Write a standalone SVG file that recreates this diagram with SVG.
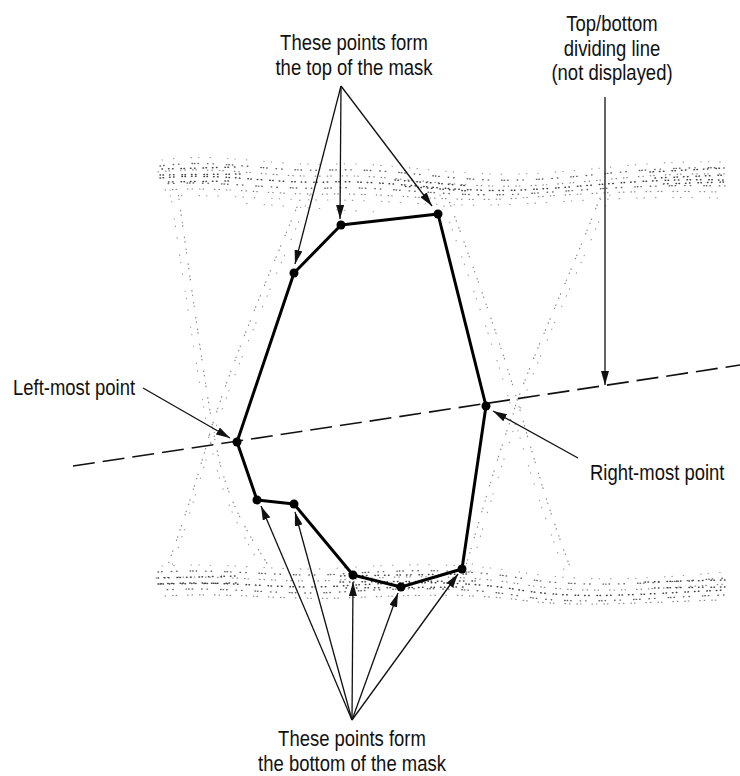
<svg xmlns="http://www.w3.org/2000/svg" width="740" height="776" viewBox="0 0 740 776">
<defs>
<marker id="ah" viewBox="0 0 14 8" refX="14" refY="4" markerWidth="14" markerHeight="8" markerUnits="userSpaceOnUse" orient="auto"><path d="M0,0 L14,4 L0,8 z" fill="#111"/></marker>
</defs>
<style>
.t{font-family:"Liberation Sans",Arial,sans-serif;font-size:22px;fill:#111}
.ar{stroke:#111;stroke-width:1.3;fill:none;marker-end:url(#ah)}
.mask{stroke:#000;stroke-width:3;fill:none;stroke-linejoin:round}
.pt{fill:#000}
.dash{stroke:#111;stroke-width:1.6;stroke-dasharray:22 8;fill:none}
.n{fill:none;stroke-linecap:round}
.a{stroke:#666;stroke-width:1.4;stroke-dasharray:0.5 3 0.5 9 0.5 5 0.5 13 0.5 2}
.b{stroke:#888;stroke-width:1.2;stroke-dasharray:0.5 7 0.5 3 0.5 11 0.5 4}
.c{stroke:#444;stroke-width:1.5;stroke-dasharray:0.5 2.5 0.5 6 0.5 3.5 0.5 8}
.d{stroke:#999;stroke-width:1.1;stroke-dasharray:0.5 11 0.5 17 0.5 7}
</style>
<rect width="740" height="776" fill="#fff"/>
<g id="noise">
<path class="n d" d="M162,160 C220,152 270,166 330,164 S450,176 520,174 S640,160 725,162"/>
<path class="n a" d="M160,166 C220,158 260,172 330,170 S450,182 520,180 S640,166 725,168"/>
<path class="n b" d="M158,172 C220,165 270,178 330,176 S450,188 520,186 S640,172 726,174"/>
<path class="n c" d="M160,178 C220,172 270,184 330,182 S450,193 520,190 S640,178 724,180"/>
<path class="n a" d="M162,184 C220,180 270,190 330,188 S450,198 520,194 S640,184 725,186" style="stroke-dashoffset:7"/>
<path class="n b" d="M165,190 C220,186 270,195 330,194 S450,203 520,198 S640,190 722,192"/>
<path class="n d" d="M170,196 C220,194 270,200 330,200 S450,208 520,204 S640,196 720,198"/>
<path class="n d" d="M240,203 C290,206 330,210 380,212" style="stroke-dashoffset:5"/>
<path class="n c" d="M162,169 L238,167" style="stroke-dashoffset:3"/>
<path class="n c" d="M160,175 L240,174"/>
<path class="n c" d="M164,182 L232,181" style="stroke-dashoffset:5"/>
<path class="n c" d="M395,180 L470,186"/>
<path class="n c" d="M400,186 L468,191" style="stroke-dashoffset:4"/>
<path class="n c" d="M650,172 L725,168"/>
<path class="n c" d="M655,178 L726,175" style="stroke-dashoffset:3"/>
<path class="n c" d="M660,184 L724,182" style="stroke-dashoffset:6"/>
<path class="n d" d="M162,566 C230,562 280,572 340,568 S460,562 520,572 S640,580 725,572"/>
<path class="n a" d="M158,572 C230,568 280,578 340,574 S460,568 520,578 S640,584 726,578"/>
<path class="n b" d="M156,578 C230,574 280,584 340,580 S460,574 520,584 S640,590 726,584"/>
<path class="n c" d="M158,584 C230,580 280,590 340,586 S460,580 520,590 S640,594 725,590"/>
<path class="n a" d="M160,590 C230,586 280,596 340,592 S460,586 520,596 S640,598 724,595" style="stroke-dashoffset:6"/>
<path class="n b" d="M165,596 C230,592 280,600 340,598 S460,592 520,600 S640,602 720,600"/>
<path class="n c" d="M158,578 L236,576" style="stroke-dashoffset:3"/>
<path class="n c" d="M160,584 L238,583"/>
<path class="n c" d="M335,576 L470,574" style="stroke-dashoffset:4"/>
<path class="n c" d="M340,582 L475,581"/>
<path class="n c" d="M345,588 L465,587" style="stroke-dashoffset:2"/>
<path class="n c" d="M645,582 L726,580"/>
<path class="n c" d="M650,588 L725,587" style="stroke-dashoffset:5"/>
<path class="n d" d="M310,195 C270,290 230,380 212,440 S185,530 172,565"/>
<path class="n b" d="M300,200 C262,290 225,380 208,440 S180,530 168,565"/>
<path class="n d" d="M170,190 C185,290 198,380 210,440 S240,530 262,568"/>
<path class="n b" d="M178,192 C192,290 204,380 215,440 S246,530 270,568" style="stroke-dashoffset:4"/>
<path class="n d" d="M610,195 C575,280 540,350 520,410 S485,520 470,572"/>
<path class="n b" d="M600,198 C568,280 535,350 514,410 S480,520 464,572"/>
<path class="n d" d="M440,195 C470,280 495,350 512,410 S545,520 565,572"/>
<path class="n b" d="M448,198 C478,280 503,350 520,410 S552,520 572,572" style="stroke-dashoffset:3"/>
</g>
<g id="connectors">
<path class="dash" d="M73,466 L740,365"/>
<path class="ar" d="M341,86 L295,264"/>
<path class="ar" d="M341,86 L340,219"/>
<path class="ar" d="M341,86 L432,206"/>
<path class="ar" d="M605,97 L605,385"/>
<path class="ar" d="M143,388 L230,438"/>
<path class="ar" d="M578,458 L493,411"/>
<path class="ar" d="M352,720 L261,506"/>
<path class="ar" d="M352,720 L295,512"/>
<path class="ar" d="M352,720 L353,582"/>
<path class="ar" d="M352,720 L398,593"/>
<path class="ar" d="M352,720 L458,574"/>
</g>
<g id="mask">
<polyline class="mask" points="237,442 294,273 341,225 438,214 486,406 462,569 401,587 353,575 294,504 257,500 237,442"/>
<circle class="pt" cx="237" cy="442" r="4.5"/>
<circle class="pt" cx="294" cy="273" r="4.5"/>
<circle class="pt" cx="341" cy="225" r="4.5"/>
<circle class="pt" cx="438" cy="214" r="4.5"/>
<circle class="pt" cx="486" cy="406" r="4.5"/>
<circle class="pt" cx="462" cy="569" r="4.5"/>
<circle class="pt" cx="401" cy="587" r="4.5"/>
<circle class="pt" cx="353" cy="575" r="4.5"/>
<circle class="pt" cx="294" cy="504" r="4.5"/>
<circle class="pt" cx="257" cy="500" r="4.5"/>
</g>
<g id="label-top">
<text class="t" text-anchor="middle" transform="translate(354,50) scale(0.84,1)">These points form</text>
<text class="t" text-anchor="middle" transform="translate(354,75) scale(0.84,1)">the top of the mask</text>
</g>
<g id="label-divider">
<text class="t" text-anchor="middle" transform="translate(612,31) scale(0.84,1)">Top/bottom</text>
<text class="t" text-anchor="middle" transform="translate(612,56) scale(0.84,1)">dividing line</text>
<text class="t" text-anchor="middle" transform="translate(612,80) scale(0.84,1)">(not displayed)</text>
</g>
<g id="label-left">
<text class="t" transform="translate(13,395) scale(0.84,1)">Left-most point</text>
</g>
<g id="label-right">
<text class="t" transform="translate(590,480) scale(0.84,1)">Right-most point</text>
</g>
<g id="label-bottom">
<text class="t" text-anchor="middle" transform="translate(352,746) scale(0.84,1)">These points form</text>
<text class="t" text-anchor="middle" transform="translate(352,771) scale(0.84,1)">the bottom of the mask</text>
</g>
</svg>
